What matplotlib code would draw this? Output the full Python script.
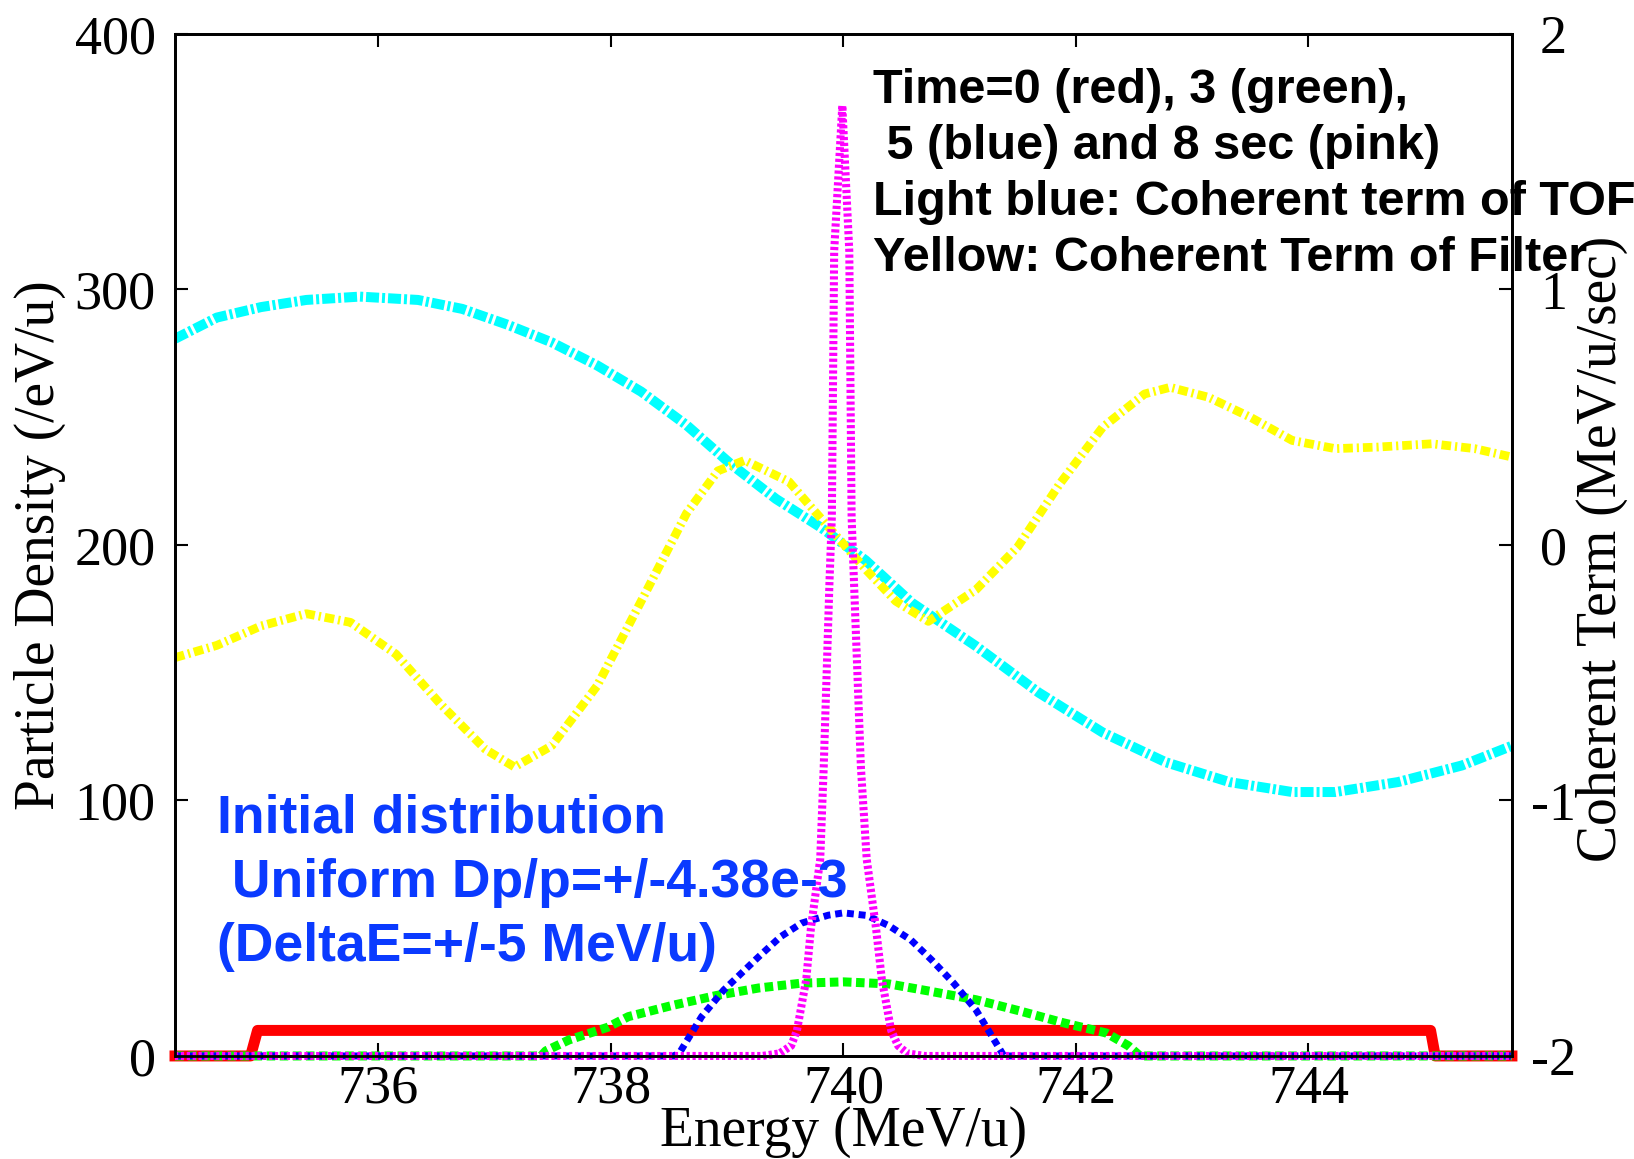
import matplotlib
matplotlib.use("Agg")
import matplotlib.pyplot as plt

plt.rcParams['font.family'] = 'Liberation Serif'
plt.rcParams['axes.unicode_minus'] = False

# particle density (/eV/u), left axis
red_e = [734.25, 734.9, 734.96, 745.05, 745.09, 745.75]
red_v = [0, 0, 10, 10, 0, 0]

green_e = [734.25, 737.4, 737.44, 737.64, 737.97, 738.15, 738.52, 738.9, 739.27, 739.64, 740.0,
           740.39, 740.76, 741.14, 741.51, 741.89, 742.26, 742.45, 742.55, 745.75]
green_v = [0, 0, 2, 6.3, 11.2, 15.4, 19.7, 23.6, 26.6, 28.5, 29, 28.2, 25.2, 22, 17.7, 13, 9, 4, 0, 0]

blue_e = [734.25, 738.55, 738.6, 738.78, 738.97, 739.27, 739.46, 739.64, 739.87, 740.0, 740.2,
          740.39, 740.58, 740.76, 740.95, 741.14, 741.28, 741.38, 745.75]
blue_v = [0, 0, 2, 15.4, 25.8, 38.8, 46.7, 52, 55.1, 56, 55, 51, 45.4, 37.5, 28.4, 18, 7.5, 0, 0]

pink_e = [734.25, 739.3, 739.45, 739.55, 739.6, 739.68, 739.72, 739.8, 739.83, 739.88, 739.9, 739.92,
          739.99, 740.05, 740.07, 740.09, 740.15, 740.2, 740.28, 740.33, 740.41, 740.47, 740.55, 740.7, 745.75]
pink_v = [0, 0, 1, 4, 10, 30, 50, 77, 113, 186, 211, 315, 372, 315, 211, 186, 113, 77, 50, 30, 10, 4, 1, 0, 0]

# coherent terms (MeV/u/sec), right axis
tof_e = [734.25, 734.61, 734.99, 735.38, 735.84, 736.34, 736.72, 737.11, 737.49, 737.88, 738.26,
         738.65, 739.03, 739.42, 739.8, 740.04, 740.19, 740.59, 741.14, 741.68, 742.23, 742.77,
         743.32, 743.86, 744.23, 744.77, 745.32, 745.75]
tof_v = [0.807, 0.89, 0.931, 0.959, 0.972, 0.959, 0.924, 0.862, 0.793, 0.703, 0.6, 0.469, 0.317,
         0.18, 0.07, -0.01, -0.06, -0.227, -0.396, -0.578, -0.734, -0.85, -0.928, -0.967, -0.967,
         -0.928, -0.863, -0.786]

filt_e = [734.25, 734.61, 734.99, 735.38, 735.76, 736.15, 736.53, 736.92, 737.17, 737.49, 737.88,
          738.26, 738.65, 738.92, 739.15, 739.53, 739.9, 740.2, 740.45, 740.73, 741.14, 741.5,
          741.86, 742.23, 742.59, 742.81, 743.14, 743.5, 743.86, 744.23, 744.59, 745.06, 745.43, 745.75]
filt_v = [-0.441, -0.393, -0.317, -0.269, -0.303, -0.427, -0.621, -0.8, -0.869, -0.786, -0.552,
          -0.22, 0.124, 0.29, 0.331, 0.248, 0.055, -0.1, -0.22, -0.299, -0.175, -0.007, 0.239, 0.461,
          0.591, 0.617, 0.578, 0.5, 0.409, 0.377, 0.383, 0.396, 0.377, 0.344]

xticks = [736, 738, 740, 742, 744]
left_ticks = [0, 100, 200, 300, 400]
right_ticks = [-2, -1, 0, 1, 2]

info_lines = ["Time=0 (red), 3 (green),", " 5 (blue) and 8 sec (pink)",
              "Light blue: Coherent term of TOF", "Yellow: Coherent Term of Filter"]
init_lines = ["Initial distribution", " Uniform Dp/p=+/-4.38e-3", "(DeltaE=+/-5 MeV/u)"]

fig = plt.figure(figsize=(16.34, 11.59), dpi=100)
ax = fig.add_axes([0.1071, 0.0889, 0.8182, 0.8818])
ax2 = ax.twinx()
ax.set_zorder(ax2.get_zorder() + 1)
ax.patch.set_visible(False)

ax2.plot(tof_e, tof_v, color='#00ffff', lw=7.2, dashes=(1.3, 0.3, 0.3, 0.3))
ax2.plot(filt_e, filt_v, color='#ffff00', lw=6.3, dashes=(1.1, 0.45, 0.25, 0.45))

ax.plot(red_e, red_v, color='#ff0000', lw=7.9, clip_on=False)
ax.plot(green_e, green_v, color='#00ff00', lw=6.5, dashes=(0.95, 0.5), clip_on=False)
ax.plot(blue_e, blue_v, color='#0000ff', lw=5.0, dashes=(1.0, 0.7), clip_on=False)
ax.plot(pink_e, pink_v, color='#ff00ff', lw=5.8, dashes=(0.4, 0.33), clip_on=False)

ax.set_xlim(734.25, 745.75)
ax.set_ylim(0, 400)
ax2.set_ylim(-2, 2)
ax.set_xticks(xticks)
ax.set_yticks(left_ticks)
ax2.set_yticks(right_ticks)

ax.tick_params(axis='both', direction='in', length=9.5, width=1.5, labelsize=39, top=True, right=False)
ax.tick_params(axis='x', pad=6)
ax.tick_params(axis='y', pad=14)
ax2.tick_params(axis='y', direction='in', length=9.5, width=1.5, labelsize=39, pad=30)
for lab in ax2.get_yticklabels():
    lab.set_ha('center')
for a in (ax, ax2):
    for s in a.spines.values():
        s.set_linewidth(2)

fig.text(40 / 1634, 1 - 545 / 1159, 'Particle Density (/eV/u)', rotation=90, ha='center', va='center', fontsize=40)
fig.text(1602 / 1634, 1 - 549 / 1159, 'Coherent Term (MeV/u/sec)', rotation=90, ha='center', va='center', fontsize=40)
fig.text(844 / 1634, 1 - 1146 / 1159, 'Energy (MeV/u)', ha='center', va='baseline', fontsize=40)

for i, t in enumerate(info_lines):
    ax.text(0.522, 0.9325 - i * 0.0548, t, transform=ax.transAxes, family='Liberation Sans',
            weight='bold', fontsize=35, va='baseline', ha='left')
for i, t in enumerate(init_lines):
    ax.text(0.0314, 0.2185 - i * 0.0627, t, transform=ax.transAxes, family='Liberation Sans',
            weight='bold', fontsize=38.5, color='#0a3aff', va='baseline', ha='left')

fig.savefig('out.png', dpi=100)
